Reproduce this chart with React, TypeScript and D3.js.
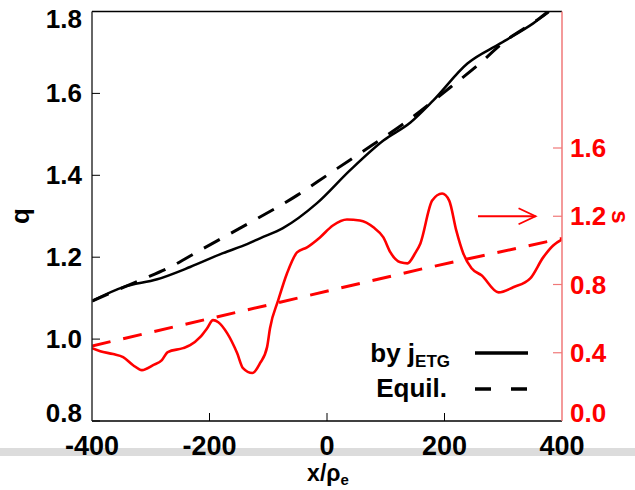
import React from "react";
import * as d3 from "d3";

// q profile from j_ETG (solid black)
const xQ = [-400, -347, -289, -233, -177, -136, -114, -75, -17, 39, 96, 142, 181, 239, 295, 351, 377];
const qByJ = [1.093, 1.127, 1.146, 1.176, 1.21, 1.232, 1.246, 1.271, 1.332, 1.412, 1.485, 1.529, 1.583, 1.673, 1.722, 1.771, 1.798];

// equilibrium q (dashed black)
const xQEq = [-400, -318, -267, -216, -148, -51, 0, 51, 138, 210, 256, 300, 363, 385];
const qEquil = [1.093, 1.144, 1.176, 1.217, 1.271, 1.351, 1.4, 1.449, 1.534, 1.615, 1.668, 1.724, 1.785, 1.81];

// magnetic shear s (solid red)
const xS = [-400, -386, -364, -347, -330, -315, -296, -281, -271, -245, -233, -216, -204, -194, -185, -170, -153, -143, -127, -114, -102, -97, -83, -68, -51, -34, -12, 10, 34, 56, 79, 96, 108, 125, 137, 150, 159, 179, 196, 208, 220, 232, 246, 263, 292, 317, 346, 368, 385, 400];
const sByJ = [0.427, 0.409, 0.392, 0.374, 0.327, 0.298, 0.327, 0.357, 0.404, 0.427, 0.444, 0.491, 0.544, 0.591, 0.579, 0.515, 0.398, 0.31, 0.281, 0.339, 0.433, 0.544, 0.708, 0.866, 0.988, 1.018, 1.076, 1.146, 1.181, 1.175, 1.135, 1.076, 0.988, 0.93, 0.924, 0.983, 1.041, 1.292, 1.333, 1.292, 1.117, 0.982, 0.895, 0.854, 0.754, 0.784, 0.836, 0.959, 1.029, 1.064];

// equilibrium s (dashed red)
const xSEq = [-400, -100, 160, 400];
const sEquil = [0.44, 0.68, 0.89, 1.07];

const xTicks = [-400, -200, 0, 200, 400];
const qTicks = [0.8, 1.0, 1.2, 1.4, 1.6, 1.8];
const sTicks = [0.0, 0.4, 0.8, 1.2, 1.6];

const arrowX = [257, 355];
const arrowS = 1.2;

const W = 635;
const H = 490;
const L = 92, R = 562, T = 11.5, B = 421;
const font = "'Liberation Sans', Arial, sans-serif";

export default function App() {
  const x = d3.scaleLinear().domain([-400, 400]).range([L, R]);
  const yq = d3.scaleLinear().domain([0.8, 1.8]).range([B, T]);
  const ys = d3.scaleLinear().domain([0, 2.4]).range([B, T]);

  const lineQ = d3.line<number>().x((d, i) => x(xQ[i])).y((d) => yq(d)).curve(d3.curveMonotoneX);
  const lineQEq = d3.line<number>().x((d, i) => x(xQEq[i])).y((d) => yq(d)).curve(d3.curveMonotoneX);
  const lineS = d3.line<number>().x((d, i) => x(xS[i])).y((d) => ys(d)).curve(d3.curveMonotoneX);
  const lineSEq = d3.line<number>().x((d, i) => x(xSEq[i])).y((d) => ys(d));

  const clampY = (v: number) => Math.max(T + 7, Math.min(B - 8, v));

  const ax0 = x(arrowX[0]), ax1 = x(arrowX[1]), ay = ys(arrowS);

  return (
    <svg width={W} height={H} style={{ position: "fixed", left: 0, top: 0, background: "#fff" }} fontFamily={font} fontWeight="bold">
      <defs>
        <clipPath id="plot">
          <rect x={L} y={T} width={R - L} height={B - T} />
        </clipPath>
      </defs>
      <rect x={0} y={0} width={W} height={H} fill="#fff" />
      <rect x={0} y={448} width={W} height={8} fill="#dcdcdc" />

      <g clipPath="url(#plot)" fill="none" strokeLinejoin="round">
        <path d={lineSEq(sEquil) || ""} stroke="#ff0000" strokeWidth={3} strokeDasharray="19 13" />
        <path d={lineS(sByJ) || ""} stroke="#ff0000" strokeWidth={2.6} />
        <path d={lineQEq(qEquil) || ""} stroke="#000" strokeWidth={3} strokeDasharray="18 13" />
        <path d={lineQ(qByJ) || ""} stroke="#000" strokeWidth={2.5} />
      </g>

      {/* arrow toward the s axis */}
      <g stroke="#ff0000" strokeWidth={1.8} fill="none">
        <line x1={ax0} y1={ay} x2={ax1} y2={ay} />
        <polyline points={`${ax1 - 17},${ay - 8} ${ax1},${ay} ${ax1 - 17},${ay + 8}`} />
      </g>

      {/* frame */}
      <line x1={L} y1={T} x2={R} y2={T} stroke="#000" strokeWidth={1.5} />
      <line x1={L} y1={B} x2={R} y2={B} stroke="#000" strokeWidth={1.5} />
      <line x1={L} y1={T} x2={L} y2={B} stroke="#333" strokeWidth={1.5} />
      <line x1={R} y1={T} x2={R} y2={B} stroke="#f07878" strokeWidth={1.5} />

      {/* left axis */}
      {qTicks.map((t) => (
        <g key={"q" + t}>
          <line x1={L} x2={L + 8} y1={yq(t)} y2={yq(t)} stroke="#000" strokeWidth={1} />
          <text x={82} y={clampY(yq(t))} textAnchor="end" dominantBaseline="central" fontSize={26} fill="#000">
            {t.toFixed(1)}
          </text>
        </g>
      ))}

      {/* right axis */}
      {sTicks.map((t) => (
        <g key={"s" + t}>
          {t > 0 && <line x1={R - 9} x2={R} y1={ys(t)} y2={ys(t)} stroke="#f07878" strokeWidth={1.2} />}
          <text x={570} y={clampY(ys(t))} textAnchor="start" dominantBaseline="central" fontSize={26} fill="#ff0000">
            {t.toFixed(1)}
          </text>
        </g>
      ))}

      {/* bottom axis */}
      {xTicks.map((t) => (
        <g key={"x" + t}>
          {t > -400 && t < 400 && <line x1={x(t)} x2={x(t)} y1={B} y2={B - 8} stroke="#000" strokeWidth={1} />}
          <text x={x(t)} y={446} textAnchor="middle" dominantBaseline="central" fontSize={27} fill="#000">
            {t}
          </text>
        </g>
      ))}

      {/* axis titles */}
      <text transform="translate(20,216) rotate(-90)" textAnchor="middle" dominantBaseline="central" fontSize={26} fill="#000">q</text>
      <text transform="translate(620,217) rotate(90)" textAnchor="middle" dominantBaseline="central" fontSize={24} fill="#ff0000">s</text>
      <text x={328} y={481} textAnchor="middle" fontSize={23} fill="#000">
        x/ρ<tspan fontSize={15} dy={4}>e</tspan>
      </text>

      {/* legend */}
      <text x={450} y={362} textAnchor="end" fontSize={26} fill="#000">
        by j<tspan fontSize={17} dy={5}>ETG</tspan>
      </text>
      <line x1={475} x2={528} y1={353} y2={353} stroke="#000" strokeWidth={3.5} />
      <text x={447} y={397} textAnchor="end" fontSize={26} fill="#000">Equil.</text>
      <line x1={475} x2={528} y1={389} y2={389} stroke="#000" strokeWidth={3.5} strokeDasharray="16 20" />
    </svg>
  );
}
